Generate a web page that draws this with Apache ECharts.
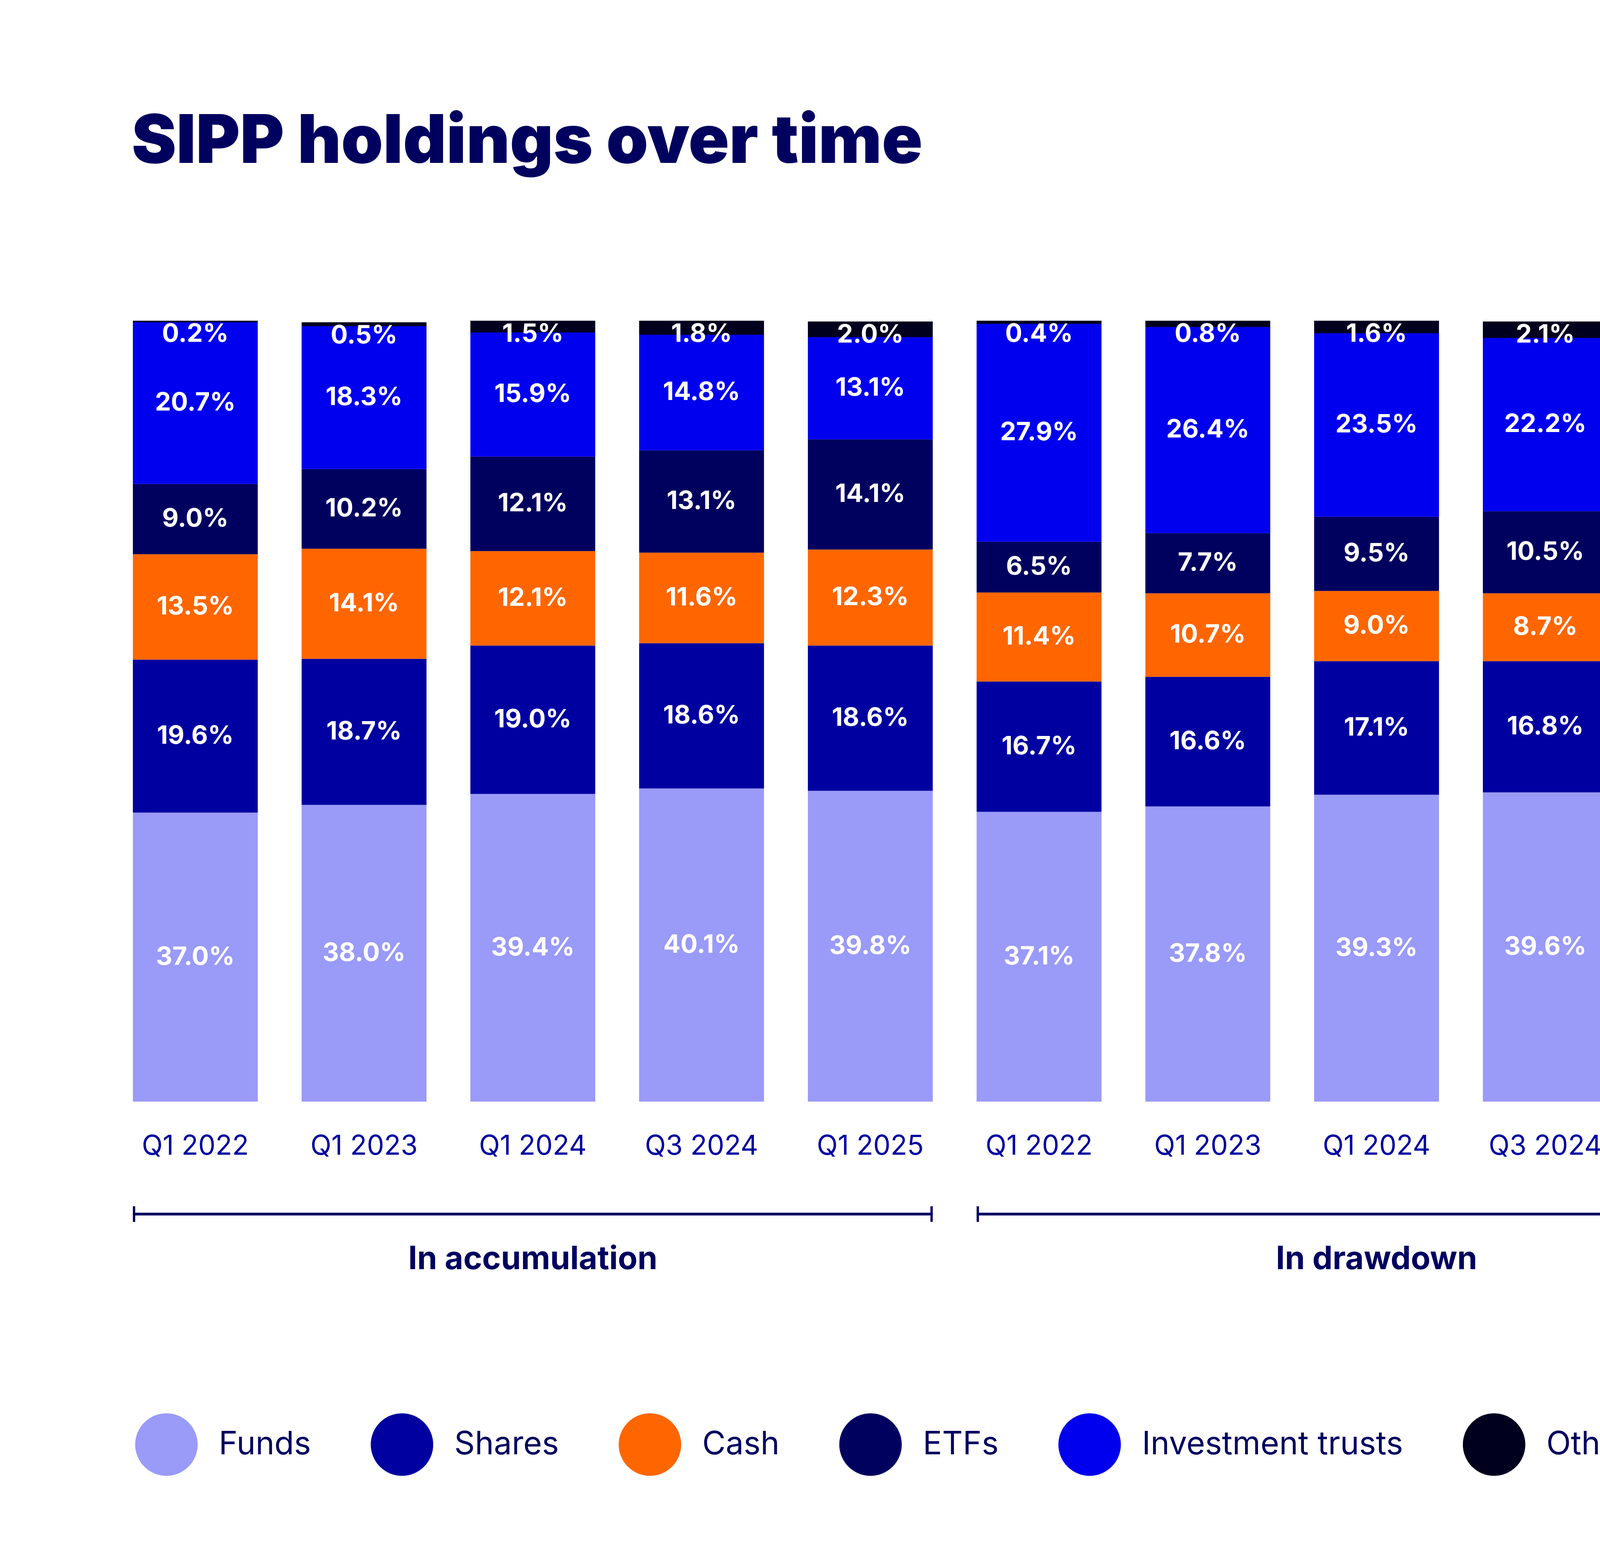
<!DOCTYPE html>
<html lang="en">
<head>
<meta charset="UTF-8">
<title>SIPP holdings over time</title>
<script src="https://cdn.jsdelivr.net/npm/echarts@6/dist/echarts.min.js"></script>
<style>
	html, body { margin: 0; padding: 0; background: #fff; }
	#chart { width: 4928px; height: 4014px; }
</style>
</head>
<body>
<div id="chart"></div>
<script>
// data
var groups = ['In accumulation', 'In drawdown'];
var periods = ['Q1 2022', 'Q1 2023', 'Q1 2024', 'Q3 2024', 'Q1 2025'];
var seriesNames = ['Funds', 'Shares', 'Cash', 'ETFs', 'Investment trusts', 'Other'];
var funds  = [37.0, 38.0, 39.4, 40.1, 39.8, 37.1, 37.8, 39.3, 39.6, 39.9];
var shares = [19.6, 18.7, 19.0, 18.6, 18.6, 16.7, 16.6, 17.1, 16.8, 16.7];
var cash   = [13.5, 14.1, 12.1, 11.6, 12.3, 11.4, 10.7, 9.0, 8.7, 9.6];
var etfs   = [9.0, 10.2, 12.1, 13.1, 14.1, 6.5, 7.7, 9.5, 10.5, 11.4];
var trusts = [20.7, 18.3, 15.9, 14.8, 13.1, 27.9, 26.4, 23.5, 22.2, 20.1];
var other  = [0.2, 0.5, 1.5, 1.8, 2.0, 0.4, 0.8, 1.6, 2.1, 2.3];
var colors = ['#9a9af8', '#0000a0', '#ff6600', '#00005f', '#0000ee', '#00001e'];

var navy = '#00005f';
var font = 'Inter, "Noto Sans", sans-serif';

// one category per bar, key keeps the duplicated period names apart
var categories = [];
groups.forEach(function (g, gi) {
	periods.forEach(function (p) { categories.push(gi + '|' + p); });
});

var values = [funds, shares, cash, etfs, trusts, other];
var series = seriesNames.map(function (name, i) {
	var last = i === seriesNames.length - 1;
	return {
		name: name,
		type: 'bar',
		stack: 'total',
		barCategoryGap: '26%',
		itemStyle: { color: colors[i] },
		label: {
			show: true,
			position: last ? 'insideTop' : 'inside',
			distance: 2,
			color: '#fff',
			fontFamily: font,
			fontWeight: 'bold',
			fontSize: 65,
			formatter: function (p) { return p.value.toFixed(1) + '%'; }
		},
		data: values[i]
	};
});

var chart = echarts.init(document.getElementById('chart'));
var option = {
	animation: false,
	backgroundColor: '#fff',
	title: {
		text: 'SIPP holdings over time',
		left: 332,
		top: 274,
		textStyle: { color: navy, fontFamily: font, fontWeight: 900, fontSize: 172 }
	},
	grid: { left: 284, right: 324, top: 821, bottom: 1194 },
	xAxis: {
		type: 'category',
		data: categories,
		axisLine: { show: false },
		axisTick: { show: false },
		axisLabel: {
			color: '#0000a0',
			fontFamily: font,
			fontSize: 70,
			margin: 80,
			formatter: function (v) { return v.split('|')[1]; }
		}
	},
	yAxis: { type: 'value', min: 0, max: 100, show: false },
	legend: {
		left: 341,
		top: 3613,
		icon: 'circle',
		itemWidth: 160,
		itemHeight: 160,
		itemGap: 153,
		textStyle: { color: navy, fontFamily: font, fontSize: 82, padding: [0, 0, 0, 49] },
		data: seriesNames
	},
	series: series
};
chart.setOption(option);

// brackets under each group, placed from the axis scale
var c0 = chart.convertToPixel({ xAxisIndex: 0 }, 0);
var c1 = chart.convertToPixel({ xAxisIndex: 0 }, 1);
var half = (c1 - c0) * 0.74 / 2;
var lineY = 3108;
var graphics = [];
groups.forEach(function (g, gi) {
	var x1 = chart.convertToPixel({ xAxisIndex: 0 }, gi * periods.length) - half;
	var x2 = chart.convertToPixel({ xAxisIndex: 0 }, gi * periods.length + periods.length - 1) + half;
	graphics.push({ type: 'line', shape: { x1: x1, y1: lineY, x2: x2, y2: lineY }, style: { stroke: navy, lineWidth: 7 } });
	graphics.push({ type: 'line', shape: { x1: x1 + 3, y1: lineY - 20, x2: x1 + 3, y2: lineY + 20 }, style: { stroke: navy, lineWidth: 6 } });
	graphics.push({ type: 'line', shape: { x1: x2 - 3, y1: lineY - 20, x2: x2 - 3, y2: lineY + 20 }, style: { stroke: navy, lineWidth: 6 } });
	graphics.push({
		type: 'text',
		x: (x1 + x2) / 2,
		y: 3224,
		style: {
			text: g, fill: navy, font: 'bold 82px ' + font,
			textAlign: 'center', textVerticalAlign: 'middle'
		}
	});
});
chart.setOption({ graphic: graphics });
</script>
</body>
</html>
